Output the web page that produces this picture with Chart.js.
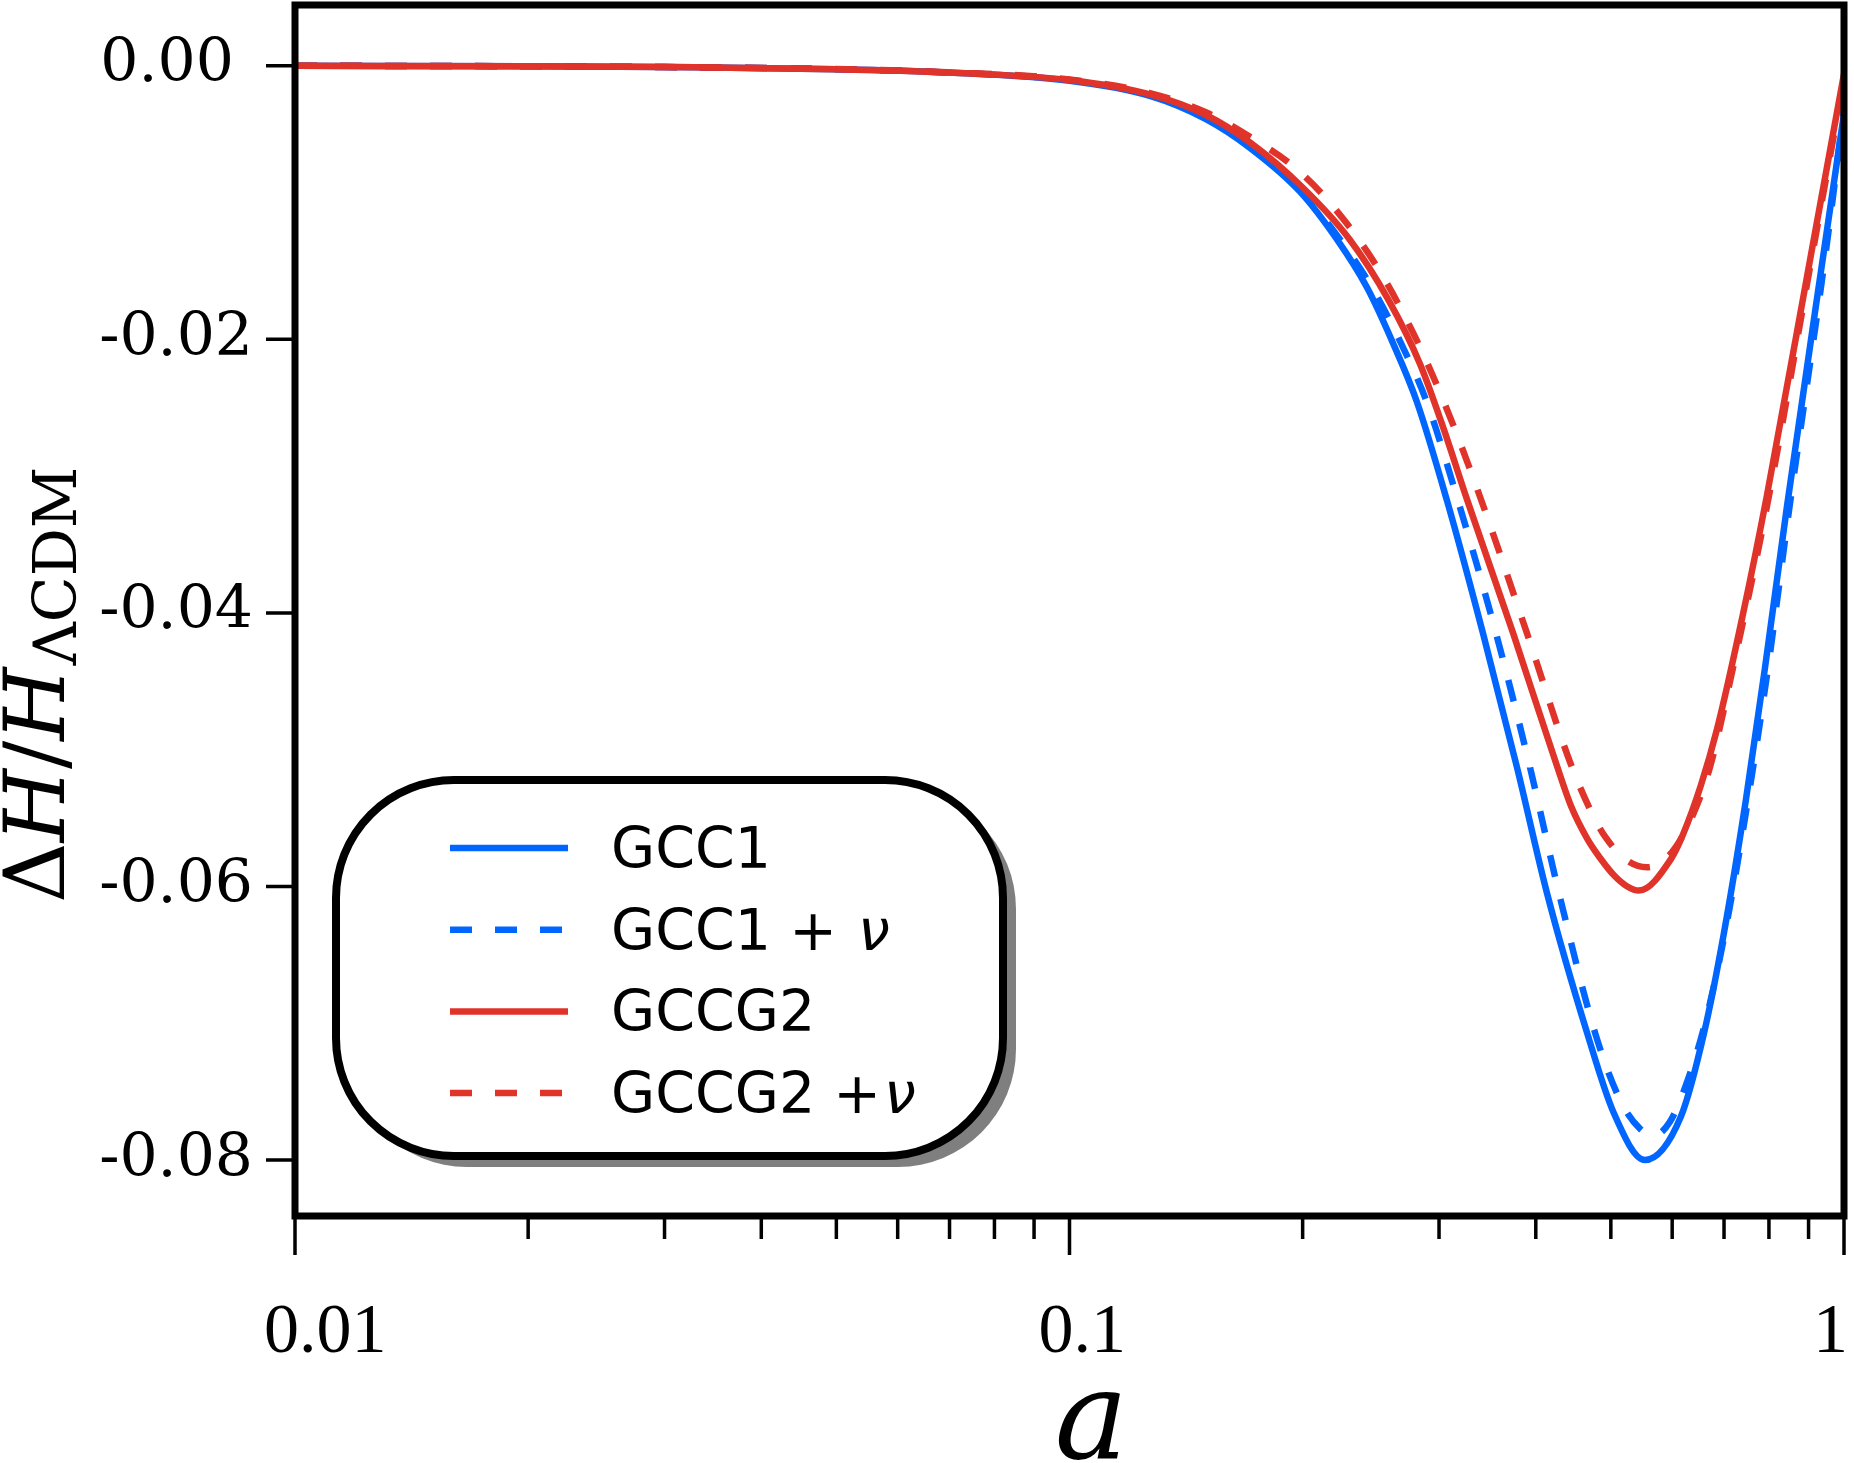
<!DOCTYPE html>
<html>
<head>
<meta charset="utf-8">
<script src="https://cdn.jsdelivr.net/npm/chart.js@4"></script>
<style>
  html, body { margin: 0; padding: 0; background: #fff; }
  canvas { display: block; }
</style>
</head>
<body>
<canvas id="chart" width="1854" height="1463"></canvas>
<script>
// values: scale factor a and dH/H_LCDM
const gcc1A = [0.01, 0.02, 0.03, 0.05, 0.07, 0.1, 0.127, 0.15, 0.171, 0.1984, 0.2215, 0.2421, 0.2617, 0.281, 0.3072, 0.3419, 0.3783, 0.4136, 0.4659, 0.5047, 0.5533, 0.616, 0.6597, 0.6998, 0.7469, 0.7907, 0.8441, 0.9423, 1.0];
const gcc1Dh = [0, -0.00004, -0.0001, -0.00025, -0.0005, -0.0011, -0.0022, -0.0039, -0.0060, -0.0092, -0.0127, -0.0162, -0.0203, -0.0246, -0.0318, -0.0415, -0.0513, -0.0605, -0.0707, -0.0766, -0.0800, -0.0768, -0.0707, -0.0634, -0.0537, -0.0440, -0.0322, -0.0135, -0.0035];

const gcc1NuA = [0.01, 0.02, 0.03, 0.05, 0.07, 0.1, 0.127, 0.15, 0.171, 0.1984, 0.2235, 0.2457, 0.268, 0.2893, 0.3174, 0.3554, 0.3932, 0.4286, 0.4771, 0.5138, 0.5451, 0.5683, 0.596, 0.6252, 0.6616, 0.704, 0.7514, 0.7978, 0.8516, 0.9479, 1.0];
const gcc1NuDh = [0, -0.00004, -0.0001, -0.00025, -0.0005, -0.00105, -0.0021, -0.0037, -0.0058, -0.0091, -0.0127, -0.0162, -0.0203, -0.0246, -0.0318, -0.0415, -0.0513, -0.0605, -0.0707, -0.0756, -0.0777, -0.0782, -0.0772, -0.0745, -0.0700, -0.0630, -0.0537, -0.0440, -0.0320, -0.0135, -0.0032];

const gccg2A = [0.01, 0.02, 0.03, 0.05, 0.07, 0.1, 0.127, 0.15, 0.171, 0.2, 0.23, 0.258, 0.2835, 0.3027, 0.326, 0.374, 0.426, 0.444, 0.466, 0.484, 0.505, 0.525, 0.5435, 0.5977, 0.6196, 0.6535, 0.6856, 0.7405, 0.7953, 0.9066, 1.0];
const gccg2Dh = [0, -0.00004, -0.0001, -0.00025, -0.0005, -0.00105, -0.0021, -0.0036, -0.0056, -0.0089, -0.0127, -0.0171, -0.0218, -0.0262, -0.0317, -0.0415, -0.0512, -0.0541, -0.0565, -0.0579, -0.0592, -0.0600, -0.0603, -0.0580, -0.0562, -0.0526, -0.0485, -0.0401, -0.0314, -0.0138, -0.0006];

const gccg2NuA = [0.01, 0.02, 0.03, 0.05, 0.07, 0.1, 0.127, 0.15, 0.171, 0.195, 0.2183, 0.2495, 0.2776, 0.3035, 0.3339, 0.3897, 0.4428, 0.4713, 0.4921, 0.5246, 0.5566, 0.5908, 0.627, 0.6696, 0.719, 0.7978, 0.912, 1.0];
const gccg2NuDh = [0, -0.00004, -0.0001, -0.00024, -0.00048, -0.001, -0.002, -0.0034, -0.0052, -0.0074, -0.0102, -0.0147, -0.0195, -0.0244, -0.0305, -0.0415, -0.0509, -0.0545, -0.0564, -0.0581, -0.0586, -0.0579, -0.0557, -0.0515, -0.0440, -0.0318, -0.0135, -0.0010];

const seriesLabels = ['GCC1', 'GCC1 + ν', 'GCCG2', 'GCCG2 +ν'];

const xTickValues = [0.01, 0.1, 1];
const xTickLabels = ['0.01', '0.1', '1'];
const yTickValues = [0, -0.02, -0.04, -0.06, -0.08];
const yTickLabels = ['0.00 ', '-0.02', '-0.04', '-0.06', '-0.08'];

const BLUE = '#0066ff';
const RED = '#e0332a';

function zip(xs, ys) {
  return xs.map((x, i) => ({ x: x, y: ys[i] }));
}

function makeSet(label, xs, ys, color, dashed, order) {
  return {
    label: label,
    data: zip(xs, ys),
    borderColor: color,
    borderWidth: 6.5,
    borderDash: dashed ? [22, 23] : [],
    pointRadius: 0,
    fill: false,
    cubicInterpolationMode: 'monotone',
    order: order
  };
}

function roundRect(ctx, x, y, w, h, r) {
  ctx.beginPath();
  ctx.moveTo(x + r, y);
  ctx.arcTo(x + w, y, x + w, y + h, r);
  ctx.arcTo(x + w, y + h, x, y + h, r);
  ctx.arcTo(x, y + h, x, y, r);
  ctx.arcTo(x, y, x + w, y, r);
  ctx.closePath();
}

function drawLegend(chart) {
  const ctx = chart.ctx;
  const ca = chart.chartArea;
  const bx = ca.left + 41, by = 780, bw = 667, bh = 376, br = 118;

  ctx.fillStyle = '#7f7f7f';
  roundRect(ctx, bx + 13, by + 11, bw, bh, br);
  ctx.fill();
  ctx.fillStyle = '#fff';
  roundRect(ctx, bx, by, bw, bh, br);
  ctx.fill();
  ctx.lineWidth = 8;
  ctx.strokeStyle = '#000';
  ctx.stroke();

  chart.data.datasets.forEach((ds, i) => {
    const cy = 848 + i * 81.7;
    ctx.beginPath();
    ctx.setLineDash(ds.borderDash);
    ctx.strokeStyle = ds.borderColor;
    ctx.lineWidth = ds.borderWidth;
    ctx.moveTo(450, cy);
    ctx.lineTo(568, cy);
    ctx.stroke();
    ctx.setLineDash([]);

    ctx.fillStyle = '#000';
    ctx.textAlign = 'left';
    ctx.textBaseline = 'alphabetic';
    const parts = ds.label.split('ν');
    ctx.font = '57px "DejaVu Sans"';
    ctx.fillText(parts[0], 611, cy + 20);
    if (parts.length > 1) {
      const w = ctx.measureText(parts[0]).width;
      ctx.font = 'italic 57px "DejaVu Sans"';
      ctx.fillText('ν', 611 + w + 3, cy + 20);
    }
  });
}

function drawTitles(chart) {
  const ctx = chart.ctx;
  const ca = chart.chartArea;
  ctx.fillStyle = '#000';
  ctx.textAlign = 'center';
  ctx.textBaseline = 'alphabetic';
  ctx.font = 'italic 123px "DejaVu Serif"';
  ctx.fillText('a', (ca.left + ca.right) / 2 + 22, 1458);

  // rotated y title: ΔH/H with subscript ΛCDM
  ctx.save();
  ctx.translate(64, 903);
  ctx.rotate(-Math.PI / 2);
  ctx.textAlign = 'left';
  let cx = 0;
  [['Δ', ''], ['H', 'italic '], ['/', ''], ['H', 'italic ']].forEach(([t, st]) => {
    ctx.font = st + '84px "DejaVu Serif"';
    ctx.fillText(t, cx, 0);
    cx += ctx.measureText(t).width;
  });
  ctx.font = '60px "DejaVu Serif"';
  ctx.fillText('ΛCDM', cx + 2, 12);
  ctx.restore();
}

const decorations = {
  id: 'decorations',
  afterDatasetsDraw(chart) {
    const ctx = chart.ctx;
    const ca = chart.chartArea;
    const xs = chart.scales.x;
    const ys = chart.scales.y;
    ctx.save();
    ctx.strokeStyle = '#000';
    ctx.lineWidth = 3.5;
    ctx.beginPath();
    ys.ticks.forEach(t => {
      const py = ys.getPixelForValue(t.value);
      ctx.moveTo(ca.left - 29, py);
      ctx.lineTo(ca.left, py);
    });
    xs.ticks.forEach(t => {
      const px = xs.getPixelForValue(t.value);
      ctx.moveTo(px, ca.bottom);
      ctx.lineTo(px, ca.bottom + (t.major ? 39 : 23));
    });
    ctx.stroke();

    ctx.lineWidth = 7;
    ctx.strokeRect(ca.left, ca.top, ca.right - ca.left, ca.bottom - ca.top);

    drawLegend(chart);
    drawTitles(chart);
    ctx.restore();
  }
};

function isLabelTick(v) {
  return xTickValues.findIndex(t => Math.abs(t - v) < 1e-9);
}

new Chart(document.getElementById('chart'), {
  type: 'line',
  data: {
    datasets: [
      makeSet(seriesLabels[0], gcc1A, gcc1Dh, BLUE, false, 4),
      makeSet(seriesLabels[1], gcc1NuA, gcc1NuDh, BLUE, true, 3),
      makeSet(seriesLabels[2], gccg2A, gccg2Dh, RED, false, 2),
      makeSet(seriesLabels[3], gccg2NuA, gccg2NuDh, RED, true, 1)
    ]
  },
  options: {
    responsive: false,
    animation: false,
    devicePixelRatio: 1,
    layout: { padding: { top: 5, right: 10, left: 0, bottom: 0 } },
    plugins: { legend: { display: false }, tooltip: { enabled: false } },
    scales: {
      x: {
        type: 'logarithmic',
        min: 0.01,
        max: 1,
        grid: { display: false, drawTicks: false },
        border: { display: false },
        afterBuildTicks: (s) => {
          const ticks = [];
          [0.01, 0.1].forEach(d => {
            for (let k = 1; k < 10; k++) ticks.push(k * d);
          });
          ticks.push(1);
          s.ticks = ticks.map(v => ({ value: v, major: isLabelTick(v) >= 0 }));
        },
        afterFit: (s) => {
          s.height = 247;
          s.paddingLeft = 0;
          s.paddingRight = 0;
        },
        ticks: {
          autoSkip: false,
          maxRotation: 0,
          minRotation: 0,
          align: 'start',
          labelOffset: -31,
          padding: 76,
          color: '#000',
          font: { family: 'Liberation Serif', size: 70 },
          callback: (v) => {
            const i = isLabelTick(v);
            return i >= 0 ? xTickLabels[i] : '';
          }
        }
      },
      y: {
        type: 'linear',
        min: -0.08409,
        max: 0.00444,
        grid: { display: false, drawTicks: false },
        border: { display: false },
        afterBuildTicks: (s) => {
          s.ticks = yTickValues.map(v => ({ value: v }));
        },
        afterFit: (s) => {
          s.width = 295;
          s.paddingTop = 0;
          s.paddingBottom = 0;
        },
        ticks: {
          padding: 42,
          color: '#000',
          font: { family: 'DejaVu Serif', size: 60 },
          callback: (v, i) => yTickLabels[i]
        }
      }
    }
  },
  plugins: [decorations]
});
</script>
</body>
</html>
